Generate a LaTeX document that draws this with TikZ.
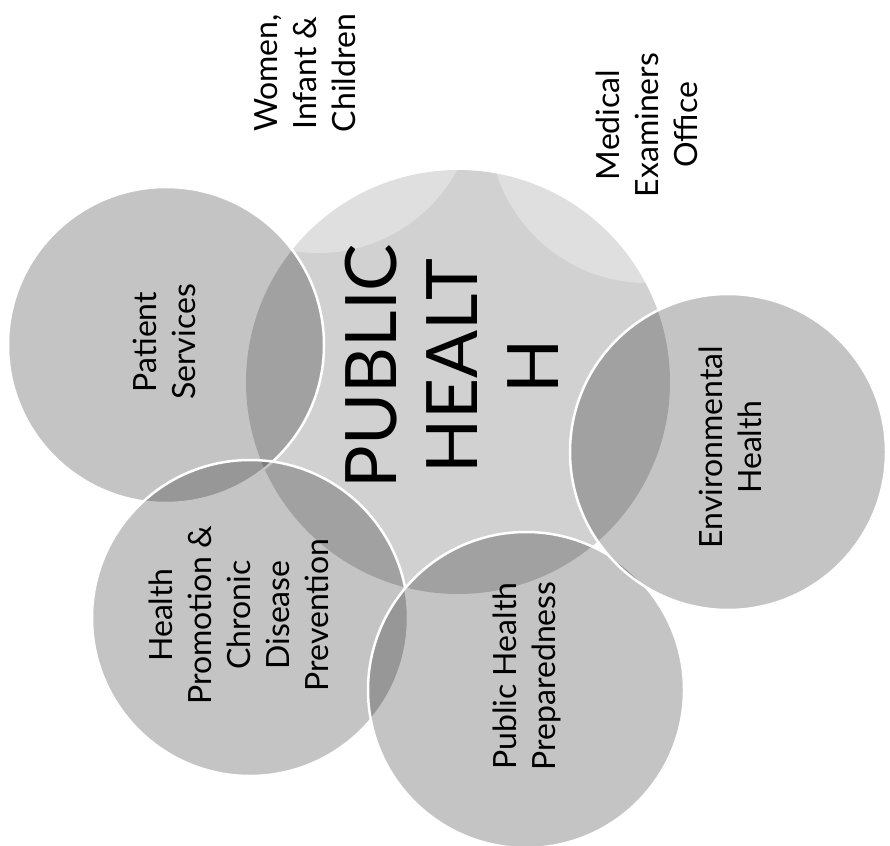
\documentclass[tikz,border=0pt]{standalone}
\usepackage{fontspec}
\setmainfont{Lato}

\begin{document}
\begin{tikzpicture}[
	x=1pt, y=1pt,
		venn/.style = {fill=black, fill opacity=.23},
	   ghost/.style = {fill=white, fill opacity=.3},
		 rim/.style = {draw=white, line width=2.5pt},
	   blurb/.style = {align=center, rotate=90, text=black,
					   font=\fontsize{32}{39}\selectfont}]
\useasboundingbox (0,0) rectangle (890,-845);
%
\coordinate (hub) at (458,-382);
\coordinate (me)  at (647,-125);
\coordinate (wic) at (318,-95);
\coordinate (ps)  at (166,-345);
\coordinate (hp)  at (250,-618);
\coordinate (php) at (526,-690);
\coordinate (eh)  at (728,-452);
%%
\fill [venn, fill opacity=.18] (hub) circle[radius=212];
\fill [ghost]                  (me)  circle[radius=158];
\fill [ghost]                  (wic) circle[radius=158];
\fill [venn]                   (ps)  circle[radius=158];
\draw [rim]                    (ps)  circle[radius=158];
\fill [venn]                   (hp)  circle[radius=158];
\draw [rim]                    (hp)  circle[radius=158];
\fill [venn]                   (php) circle[radius=158];
\draw [rim]                    (php) circle[radius=158];
\fill [venn]                   (eh)  circle[radius=158];
\draw [rim]                    (eh)  circle[radius=158];
%
\node [blurb, font=\fontsize{71}{81}\selectfont]
				(hubtext) at (452,-366) {PUBLIC\\HEALT\\H};
\node [blurb]   (metext)  at (647,-125) {Medical\\Examiners\\Office};
\node [blurb]   (wictext) at (305,-73)  {Women,\\Infant \&\\Children};
\node [blurb]   (pstext)  at (164,-342) {Patient\\Services};
\node [blurb]   (hptext)  at (239,-615) {Health\\Promotion \&\\Chronic\\Disease\\Prevention};
\node [blurb]   (phptext) at (527,-676) {Public Health\\Preparedness};
\node [blurb]   (ehtext)  at (730,-447) {Environmental\\Health};
\end{tikzpicture}
\end{document}
